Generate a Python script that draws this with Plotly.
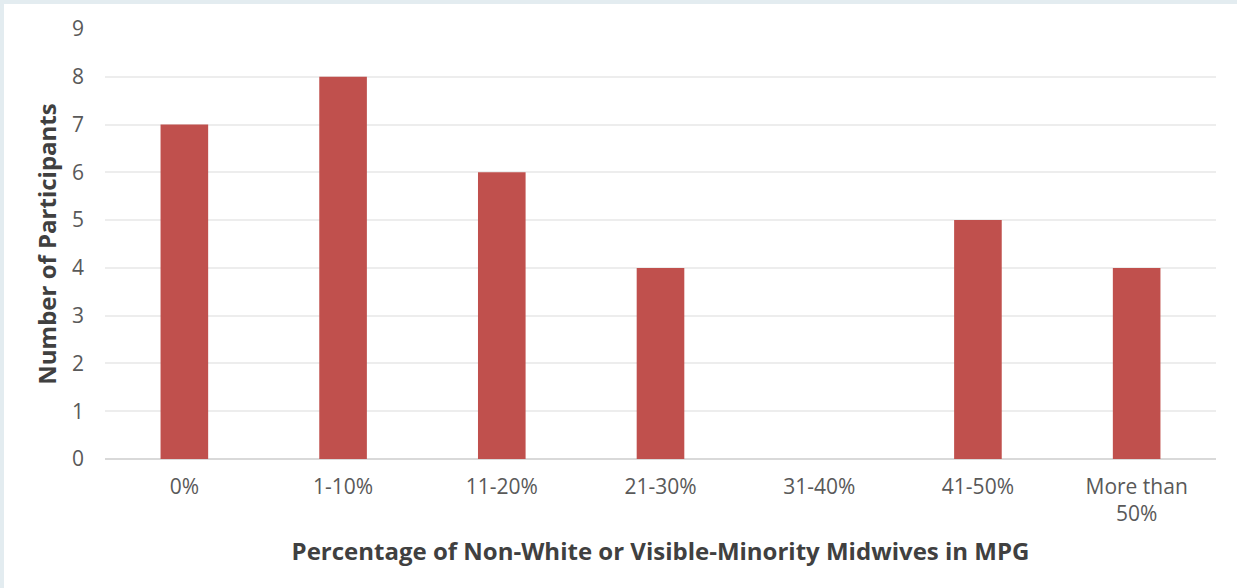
import plotly.graph_objects as go

categories = ["0%", "1-10%", "11-20%", "21-30%", "31-40%", "41-50%", "More than<br>50%"]
participants = [7, 8, 6, 4, 0, 5, 4]
y_ticks = [0, 1, 2, 3, 4, 5, 6, 7, 8, 9]

W, H = 1237, 588
L, R, T, B = 105, 21, 29, 129
pw, ph = W - L - R, H - T - B

fig = go.Figure()
fig.add_trace(go.Bar(
    x=categories, y=participants,
    marker=dict(color="#C0504D", line=dict(width=0)),
    width=0.30,
))

font_family = "'Open Sans', Lato, sans-serif"
fig.update_layout(
    width=W, height=H,
    margin=dict(l=L, r=R, t=T, b=B),
    paper_bgcolor="white", plot_bgcolor="white",
    showlegend=False,
    font=dict(family=font_family, color="#595959", size=21),
    xaxis=dict(
        title=dict(text="<b>Percentage of Non-White or Visible-Minority Midwives in MPG</b>",
                   font=dict(size=24, color="#404040"), standoff=16),
        tickfont=dict(size=21, color="#595959"),
        showgrid=False, showline=False, ticks="", ticklabelstandoff=13,
    ),
    yaxis=dict(
        title=dict(text="<b>Number of Participants</b>", font=dict(size=24, color="#404040"), standoff=8),
        range=[0, 9], tickvals=y_ticks, ticktext=[str(v) for v in y_ticks],
        tickfont=dict(size=21, color="#595959"),
        showgrid=True, gridcolor="#EDEDED", gridwidth=1.5,
        zeroline=True, zerolinecolor="#D9D9D9", zerolinewidth=1.5,
        showline=False, ticks="", ticklabelstandoff=20,
    ),
    bargap=0.7,
)

# light frame along top and left edges of the image
fig.add_shape(type="rect", xref="paper", yref="paper",
              x0=-L / pw, x1=(W - L) / pw, y0=(H - B - 4) / ph, y1=(H - B) / ph,
              fillcolor="#E3ECF0", line=dict(width=0), layer="below")
fig.add_shape(type="rect", xref="paper", yref="paper",
              x0=-L / pw, x1=(-L + 4) / pw, y0=-B / ph, y1=(H - B) / ph,
              fillcolor="#E3ECF0", line=dict(width=0), layer="below")

fig.write_html("out.html")
